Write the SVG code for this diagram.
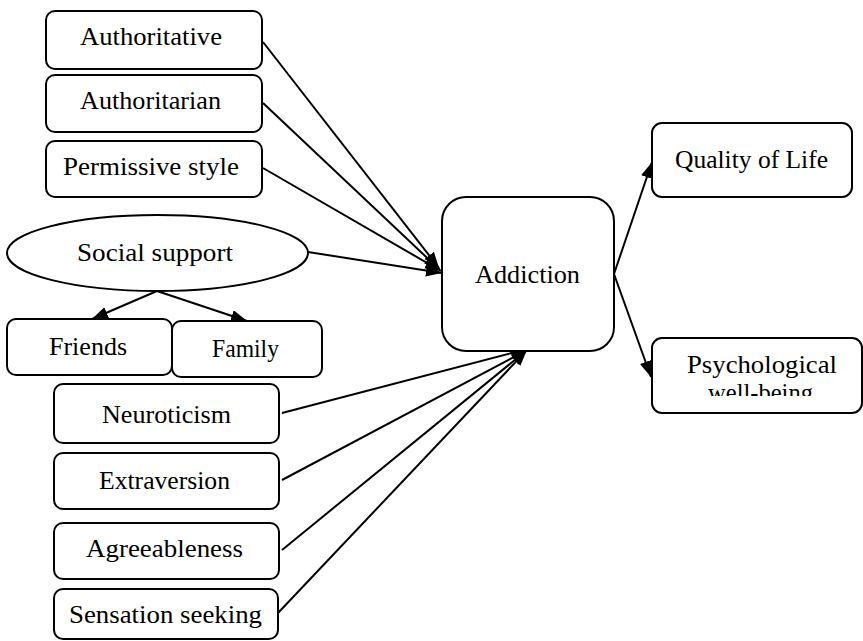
<svg xmlns="http://www.w3.org/2000/svg" width="863" height="641" viewBox="0 0 863 641">
<style>
.box{fill:#fff;stroke:#000;stroke-width:2}
.t{font-family:"Liberation Serif","Times New Roman",serif;font-size:25px;fill:#000}
.c{stroke:#000;stroke-width:2;fill:none;marker-end:url(#ah)}
</style>
<defs>
<marker id="ah" markerUnits="userSpaceOnUse" markerWidth="18" markerHeight="14" refX="16" refY="6" orient="auto">
<path d="M0,0 L16,6 L0,12 z" fill="#000"/>
</marker>
<clipPath id="pclip"><rect x="652" y="338" width="211" height="58"/></clipPath>
</defs>
<rect width="863" height="641" fill="#fff"/>
<g id="connectors">
<line class="c" x1="263" y1="42" x2="439" y2="268"/>
<line class="c" x1="263" y1="103" x2="440" y2="270"/>
<line class="c" x1="263" y1="168" x2="441" y2="271"/>
<line class="c" x1="308" y1="252" x2="442" y2="273"/>
<line class="c" x1="157" y1="291" x2="92" y2="319"/>
<line class="c" x1="157" y1="291" x2="247" y2="321"/>
<line class="c" x1="282" y1="413" x2="527" y2="349"/>
<line class="c" x1="282" y1="480" x2="527" y2="350"/>
<line class="c" x1="282" y1="550" x2="527" y2="350"/>
<line class="c" x1="278" y1="613" x2="527" y2="350"/>
<line class="c" x1="614" y1="274" x2="652" y2="162"/>
<line class="c" x1="614" y1="274" x2="651" y2="377"/>
</g>
<g id="authoritative"><rect class="box" x="46" y="11" width="216" height="58" rx="9"/><text class="t" x="80" y="45" textLength="142" lengthAdjust="spacingAndGlyphs">Authoritative</text></g>
<g id="authoritarian"><rect class="box" x="46" y="75" width="216" height="57" rx="9"/><text class="t" x="80" y="109" textLength="141" lengthAdjust="spacingAndGlyphs">Authoritarian</text></g>
<g id="permissive"><rect class="box" x="46" y="141" width="216" height="56" rx="9"/><text class="t" x="63" y="175" textLength="176" lengthAdjust="spacingAndGlyphs">Permissive style</text></g>
<g id="social-support"><ellipse class="box" cx="157.5" cy="253" rx="150.5" ry="38"/><text class="t" x="77" y="261" textLength="156" lengthAdjust="spacingAndGlyphs">Social support</text></g>
<g id="friends"><rect class="box" x="7" y="319" width="165" height="56" rx="9"/><text class="t" x="49" y="355" textLength="78" lengthAdjust="spacingAndGlyphs">Friends</text></g>
<g id="family"><rect class="box" x="172" y="321" width="150" height="56" rx="9"/><text class="t" x="212" y="357" textLength="67" lengthAdjust="spacingAndGlyphs">Family</text></g>
<g id="neuroticism"><rect class="box" x="54" y="384" width="225" height="59" rx="9"/><text class="t" x="102" y="423" textLength="129" lengthAdjust="spacingAndGlyphs">Neuroticism</text></g>
<g id="extraversion"><rect class="box" x="54" y="453" width="225" height="56" rx="9"/><text class="t" x="99" y="489" textLength="131" lengthAdjust="spacingAndGlyphs">Extraversion</text></g>
<g id="agreeableness"><rect class="box" x="54" y="523" width="225" height="56" rx="9"/><text class="t" x="86" y="557" textLength="157" lengthAdjust="spacingAndGlyphs">Agreeableness</text></g>
<g id="sensation-seeking"><rect class="box" x="54" y="589" width="224" height="50" rx="9"/><text class="t" x="69" y="623" textLength="193" lengthAdjust="spacingAndGlyphs">Sensation seeking</text></g>
<g id="addiction"><rect class="box" x="442" y="197" width="172" height="154" rx="24"/><text class="t" x="475" y="283" textLength="105" lengthAdjust="spacingAndGlyphs">Addiction</text></g>
<g id="quality-of-life"><rect class="box" x="652" y="123" width="200" height="74" rx="10"/><text class="t" x="675" y="168" textLength="153" lengthAdjust="spacingAndGlyphs">Quality of Life</text></g>
<g id="psychological-wellbeing"><rect class="box" x="652" y="338" width="210" height="75" rx="10"/><g clip-path="url(#pclip)"><text class="t" x="687" y="373" textLength="150" lengthAdjust="spacingAndGlyphs">Psychological</text><text class="t" x="708" y="401" textLength="105" lengthAdjust="spacingAndGlyphs">well-being</text></g></g>
</svg>
